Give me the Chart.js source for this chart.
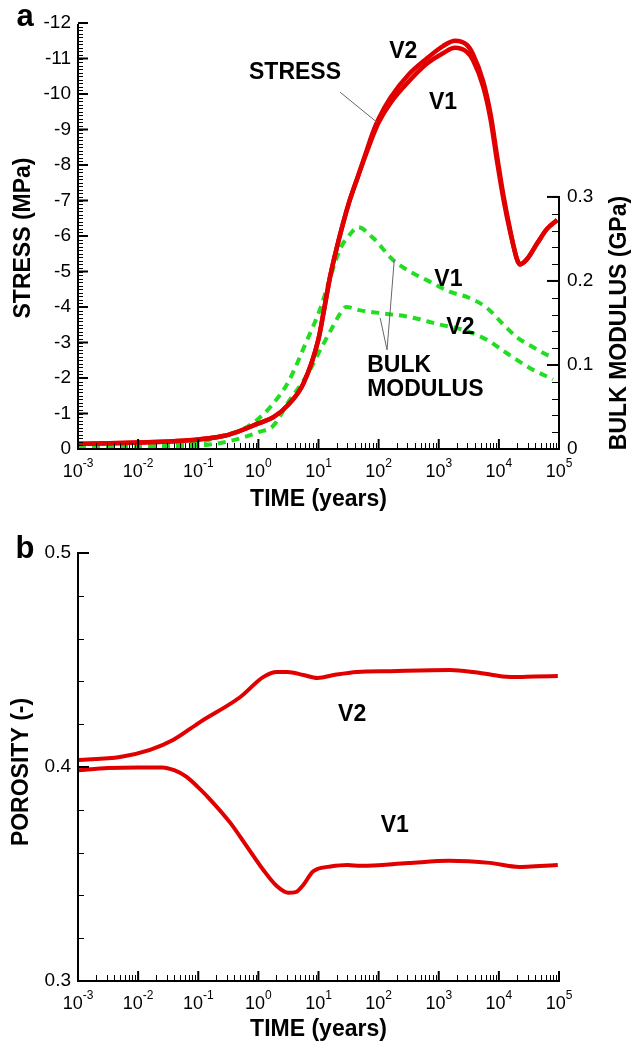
<!DOCTYPE html>
<html lang="en">
<head>
<meta charset="UTF-8">
<title>Stress, bulk modulus and porosity vs time</title>
<script src="https://cdn.jsdelivr.net/npm/chart.js"></script>
<style>
    body { margin: 0; background: #fff; }
    canvas { position: absolute; left: 0; }
    #chartA { top: 0; }
    #chartB { top: 520px; }
</style>
</head>
<body>
<canvas id="chartA" width="641" height="520"></canvas>
<canvas id="chartB" width="641" height="527"></canvas>
<script>
// ---- data (time in years) ----
const stressTime = [0.001, 0.01, 0.1, 0.316, 1, 1.78, 3.16, 5.62, 10, 12.6, 15.8, 20, 25.1, 31.6, 44.7, 63.1, 79.4, 100, 158, 316, 631, 1175, 1862, 2951, 3715, 5495, 7244, 9333, 12023, 15488, 19953, 22387, 29512, 43652, 63096, 93325];
const stressV1 = [-0.15, -0.18, -0.27, -0.4, -0.72, -0.9, -1.25, -1.85, -3.1, -4.0, -4.9, -5.65, -6.3, -6.9, -7.65, -8.35, -8.8, -9.2, -9.75, -10.35, -10.85, -11.15, -11.3, -11.18, -10.95, -10.2, -9.3, -8.1, -7.0, -6.1, -5.35, -5.2, -5.35, -5.8, -6.2, -6.45];
const stressV2 = [-0.15, -0.18, -0.27, -0.4, -0.72, -0.9, -1.25, -1.85, -3.1, -4.0, -4.9, -5.65, -6.3, -6.9, -7.65, -8.4, -8.9, -9.3, -9.9, -10.55, -11.0, -11.35, -11.5, -11.38, -11.12, -10.35, -9.45, -8.25, -7.1, -6.15, -5.35, -5.2, -5.35, -5.8, -6.2, -6.45];

const bulkTimeV1 = [0.001, 0.01, 0.1, 0.316, 0.501, 1, 1.58, 3.16, 6.31, 10.7, 15.8, 22.9, 33.9, 45.7, 81.3, 174, 316, 631, 1549, 3162, 6310, 11220, 19953, 35481, 63096, 79433];
const bulkV1 = [0.003, 0.004, 0.008, 0.018, 0.022, 0.036, 0.05, 0.08, 0.128, 0.167, 0.205, 0.238, 0.256, 0.264, 0.251, 0.225, 0.212, 0.201, 0.187, 0.18, 0.168, 0.15, 0.133, 0.122, 0.112, 0.109];
const bulkTimeV2 = [0.001, 0.01, 0.1, 0.316, 1, 1.78, 3.16, 6.46, 10.7, 17.4, 22.9, 28.8, 50.1, 100, 331, 1047, 2512, 6310, 11220, 19953, 35481, 79433];
const bulkV2 = [0.001, 0.002, 0.004, 0.009, 0.02, 0.028, 0.056, 0.088, 0.118, 0.146, 0.161, 0.169, 0.165, 0.162, 0.157, 0.148, 0.142, 0.13, 0.118, 0.106, 0.095, 0.083];

const porTimeV1 = [0.001, 0.00316, 0.01, 0.0251, 0.0398, 0.0631, 0.1, 0.158, 0.339, 0.646, 1.2, 2.0, 3.16, 4.17, 5.62, 7.94, 9.33, 15.8, 30.2, 50.1, 309, 1479, 7079, 21878, 39811, 95499];
const porV1 = [0.3985, 0.3995, 0.3998, 0.3998, 0.3985, 0.3955, 0.3905, 0.3848, 0.374, 0.3628, 0.352, 0.3445, 0.3412, 0.3415, 0.345, 0.351, 0.3522, 0.3535, 0.3542, 0.3538, 0.3551, 0.3562, 0.3552, 0.3533, 0.3536, 0.3542];
const porTimeV2 = [0.001, 0.005, 0.0158, 0.038, 0.107, 0.501, 1.2, 2.04, 3.02, 5.62, 9.55, 20, 43.7, 158, 1549, 3715, 7943, 17378, 39811, 95499];
const porV2 = [0.4033, 0.4047, 0.408, 0.4126, 0.421, 0.4327, 0.442, 0.4444, 0.4444, 0.443, 0.4416, 0.4432, 0.4444, 0.4448, 0.4453, 0.4444, 0.443, 0.442, 0.4423, 0.4425];

// ---- tick labels ----
const timeExps = [-3, -2, -1, 0, 1, 2, 3, 4, 5];
const stressTicks = [0, -1, -2, -3, -4, -5, -6, -7, -8, -9, -10, -11, -12];
const bulkTicks = [0, 0.1, 0.2, 0.3];
const porTicks = [0.3, 0.4, 0.5];

const RED = '#e00000';
const GREEN = '#22dd22';
const FONT = '"Liberation Sans", Arial, Helvetica, sans-serif';

function xy(t, v) {
    return t.map((x, i) => ({ x: x, y: v[i] }));
}

function line(ctx, x1, y1, x2, y2) {
    ctx.beginPath();
    ctx.moveTo(x1, y1);
    ctx.lineTo(x2, y2);
    ctx.stroke();
}

function text(ctx, s, x, y, font, align, rot) {
    ctx.save();
    ctx.translate(x, y);
    if (rot) ctx.rotate(rot);
    ctx.font = font;
    ctx.fillStyle = '#000';
    ctx.textAlign = align || 'center';
    ctx.textBaseline = 'middle';
    ctx.fillText(s, 0, 0);
    ctx.restore();
}

// log time axis along the bottom, ticks pointing up
function drawTimeAxis(ctx, chart, labelY, titleY) {
    const sx = chart.scales.x, a = chart.chartArea;
    ctx.strokeStyle = '#000';
    ctx.lineWidth = 1;
    for (let i = 0; i < timeExps.length - 1; i++) {
        for (let k = 2; k < 10; k++) {
            const px = Math.round(sx.getPixelForValue(k * Math.pow(10, timeExps[i]))) + 0.5;
            line(ctx, px, a.bottom, px, a.bottom - 6);
        }
    }
    ctx.lineWidth = 2;
    timeExps.forEach(n => {
        const px = sx.getPixelForValue(Math.pow(10, n));
        line(ctx, px, a.bottom, px, a.bottom - 10);
        ctx.font = '18px ' + FONT;
        const w1 = ctx.measureText('10').width;
        ctx.font = '12px ' + FONT;
        const w2 = ctx.measureText(String(n)).width;
        const x0 = px - (w1 + w2) / 2;
        text(ctx, '10', x0, labelY, '18px ' + FONT, 'left');
        text(ctx, String(n), x0 + w1, labelY - 8, '12px ' + FONT, 'left');
    });
    line(ctx, a.left - 1, a.bottom, a.right + 1, a.bottom);
    text(ctx, 'TIME (years)', (a.left + a.right) / 2, titleY, 'bold 23px ' + FONT);
}

// value axis: side 'left' or 'right', ticks pointing into the plot
function drawValueAxis(ctx, scale, x, side, majors, minorStep, from, to, fmt, majLen, minLen) {
    const dir = side === 'left' ? 1 : -1;
    ctx.strokeStyle = '#000';
    ctx.lineWidth = 1;
    const n = Math.round((to - from) / minorStep);
    for (let i = 0; i <= n; i++) {
        const py = Math.round(scale.getPixelForValue(from + i * minorStep)) + 0.5;
        line(ctx, x, py, x + dir * minLen, py);
    }
    ctx.lineWidth = 2;
    majors.forEach(v => {
        const py = scale.getPixelForValue(v);
        line(ctx, x, py, x + dir * majLen, py);
        if (side === 'left') text(ctx, fmt(v), x - 7, py, '19px ' + FONT, 'right');
        else text(ctx, fmt(v), x + 8, py, '19px ' + FONT, 'left');
    });
    line(ctx, x, scale.getPixelForValue(from) + 1, x, scale.getPixelForValue(to) - 1);
}

function label(ctx, chart, axis, s, t, v, align) {
    const px = chart.scales.x.getPixelForValue(t);
    const py = chart.scales[axis].getPixelForValue(v);
    text(ctx, s, px, py, 'bold 23px ' + FONT, align || 'center');
}

function leader(ctx, chart, axis, t1, v1, t2, v2) {
    const sx = chart.scales.x, sy = chart.scales[axis];
    ctx.strokeStyle = '#666';
    ctx.lineWidth = 1;
    line(ctx, sx.getPixelForValue(t1), sy.getPixelForValue(v1), sx.getPixelForValue(t2), sy.getPixelForValue(v2));
}

const axesA = {
    id: 'axesA',
    afterDraw(chart) {
        const ctx = chart.ctx, a = chart.chartArea;
        drawValueAxis(ctx, chart.scales.y, a.left, 'left', stressTicks, 0.1, -12, 0, v => String(v), 10, 5);
        drawValueAxis(ctx, chart.scales.y2, a.right, 'right', bulkTicks, 0.02, 0, 0.3, v => String(v), 12, 7);
        drawTimeAxis(ctx, chart, 472, 500);
        text(ctx, 'STRESS (MPa)', 24, 238, 'bold 23px ' + FONT, 'center', -Math.PI / 2);
        text(ctx, 'BULK MODULUS (GPa)', 620, 323, 'bold 23px ' + FONT, 'center', -Math.PI / 2);
        text(ctx, 'a', 25, 17, 'bold 31px ' + FONT);

        label(ctx, chart, 'y', 'STRESS', 4.07, -10.6);
        label(ctx, chart, 'y', 'V2', 257, -11.2);
        label(ctx, chart, 'y', 'V1', 1175, -9.75);
        leader(ctx, chart, 'y', 22.9, -10.05, 94.4, -9.2);

        label(ctx, chart, 'y2', 'V1', 1445, 0.201);
        label(ctx, chart, 'y2', 'V2', 2291, 0.144);
        label(ctx, chart, 'y2', 'BULK', 64.6, 0.099, 'left');
        label(ctx, chart, 'y2', 'MODULUS', 64.6, 0.071, 'left');
        leader(ctx, chart, 'y2', 138, 0.118, 182, 0.225);
        leader(ctx, chart, 'y2', 138, 0.118, 106, 0.156);
    }
};

const axesB = {
    id: 'axesB',
    afterDraw(chart) {
        const ctx = chart.ctx, a = chart.chartArea;
        drawValueAxis(ctx, chart.scales.y, a.left, 'left', porTicks, 0.02, 0.3, 0.5, v => v.toFixed(1), 11, 6);
        drawTimeAxis(ctx, chart, 484, 510);
        text(ctx, 'POROSITY (-)', 22, 252, 'bold 23px ' + FONT, 'center', -Math.PI / 2);
        text(ctx, 'b', 25, 29, 'bold 31px ' + FONT);
        label(ctx, chart, 'y', 'V2', 36.3, 0.4243);
        label(ctx, chart, 'y', 'V1', 186, 0.3724);
    }
};

const common = {
    responsive: false,
    animation: false,
    events: [],
    plugins: { legend: { display: false }, tooltip: { enabled: false } },
    elements: { point: { radius: 0 }, line: { cubicInterpolationMode: 'monotone' } }
};

new Chart(document.getElementById('chartA'), {
    type: 'line',
    data: {
        datasets: [
            { data: xy(stressTime, stressV2), yAxisID: 'y', borderColor: RED, borderWidth: 4.5 },
            { data: xy(stressTime, stressV1), yAxisID: 'y', borderColor: RED, borderWidth: 4.5 },
            { data: xy(bulkTimeV1, bulkV1), yAxisID: 'y2', borderColor: GREEN, borderWidth: 4, borderDash: [8, 6] },
            { data: xy(bulkTimeV2, bulkV2), yAxisID: 'y2', borderColor: GREEN, borderWidth: 4, borderDash: [8, 6] }
        ]
    },
    options: Object.assign({}, common, {
        layout: { padding: { left: 78, right: 82, top: 23, bottom: 71 } },
        scales: {
            x: { type: 'logarithmic', min: 0.001, max: 100000, display: false },
            y: { min: -12, max: 0, reverse: true, display: false },
            y2: { min: 0, max: 0.507, position: 'right', display: false }
        }
    }),
    plugins: [axesA]
});

new Chart(document.getElementById('chartB'), {
    type: 'line',
    data: {
        datasets: [
            { data: xy(porTimeV2, porV2), borderColor: RED, borderWidth: 4 },
            { data: xy(porTimeV1, porV1), borderColor: RED, borderWidth: 4 }
        ]
    },
    options: Object.assign({}, common, {
        layout: { padding: { left: 78, right: 82, top: 33, bottom: 66 } },
        scales: {
            x: { type: 'logarithmic', min: 0.001, max: 100000, display: false },
            y: { min: 0.3, max: 0.5, display: false }
        }
    }),
    plugins: [axesB]
});
</script>
</body>
</html>
